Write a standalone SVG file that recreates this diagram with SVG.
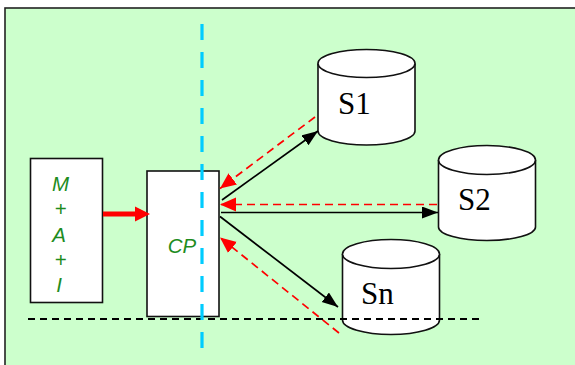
<svg xmlns="http://www.w3.org/2000/svg" width="575" height="365" viewBox="0 0 575 365">
<defs>
<style>
.box{fill:#fff;stroke:#111;stroke-width:1.6}
.cyl{fill:#fff;stroke:#111;stroke-width:1.6}
.g{font-family:"Liberation Sans",Arial,sans-serif;font-style:italic;font-size:20.5px;fill:#1e8c1e;text-anchor:middle}
.s{font-family:"Liberation Serif","Times New Roman",serif;font-size:31px;fill:#000}
.blk{stroke:#000;stroke-width:1.7;fill:none}
.red{stroke:#ff0000;stroke-width:1.7;stroke-dasharray:8 5;fill:none}
</style>
<marker id="ab" markerUnits="userSpaceOnUse" markerWidth="17" markerHeight="13" refX="16" refY="6" orient="auto">
<path d="M0,0 L16,6 L0,12 z" fill="#000"/>
</marker>
<marker id="ar" markerUnits="userSpaceOnUse" markerWidth="17" markerHeight="15" refX="16" refY="7" orient="auto">
<path d="M0,0 L16,7 L0,14 z" fill="#ff0000"/>
</marker>
</defs>
<rect x="5" y="8" width="600" height="400" fill="#ccffcc" stroke="#222" stroke-width="1.6"/>

<g id="node-mai">
<rect class="box" x="30.5" y="158.5" width="72" height="144"/>
<text class="g" x="60.5" y="191">M</text>
<text class="g" x="60.5" y="216">+</text>
<text class="g" x="59" y="241.5">A</text>
<text class="g" x="60.5" y="266.5">+</text>
<text class="g" x="59" y="291.5">I</text>
</g>

<g id="node-cp">
<rect class="box" x="147" y="171" width="72" height="145.5"/>
<text class="g" x="182" y="253">CP</text>
</g>

<g id="node-s1">
<path class="cyl" d="M318,63.5 L318,131 A48.5,14 0 0 0 415,131 L415,63.5"/>
<ellipse class="cyl" cx="366.5" cy="63.5" rx="48.5" ry="14"/>
<text class="s" x="338" y="113.5">S1</text>
</g>

<g id="node-s2">
<path class="cyl" d="M438.5,160 L438.5,227 A48.5,13.5 0 0 0 535.5,227 L535.5,160"/>
<ellipse class="cyl" cx="487" cy="160" rx="48.5" ry="14.5"/>
<text class="s" x="458" y="210">S2</text>
</g>

<g id="node-sn">
<path class="cyl" d="M342.5,254 L342.5,320 A48.5,14.5 0 0 0 439.5,320 L439.5,254"/>
<ellipse class="cyl" cx="391" cy="254" rx="48.5" ry="14.5"/>
<text class="s" x="361" y="303.5">Sn</text>
</g>

<g id="connectors">
<line x1="103" y1="214" x2="137" y2="214" stroke="#ff0000" stroke-width="5"/>
<path d="M135,206.5 L150,214 L135,221.5 z" fill="#ff0000"/>
<line class="blk" x1="222" y1="200" x2="318" y2="131" marker-end="url(#ab)"/>
<line class="blk" x1="221" y1="212.5" x2="438" y2="212.5" marker-end="url(#ab)"/>
<line class="blk" x1="220" y1="216.5" x2="338" y2="307" marker-end="url(#ab)"/>
<line class="red" x1="315" y1="117" x2="220" y2="188.5" marker-end="url(#ar)"/>
<line class="red" x1="437" y1="204.5" x2="220" y2="204.5" marker-end="url(#ar)"/>
<line class="red" x1="339" y1="333" x2="220" y2="237.5" marker-end="url(#ar)"/>
</g>

<g id="guides">
<line x1="28" y1="319" x2="484" y2="319" stroke="#000" stroke-width="1.8" stroke-dasharray="7 5"/>
<line x1="202" y1="24" x2="202" y2="350" stroke="#00ccff" stroke-width="3.2" stroke-dasharray="16 12"/>
</g>
</svg>
